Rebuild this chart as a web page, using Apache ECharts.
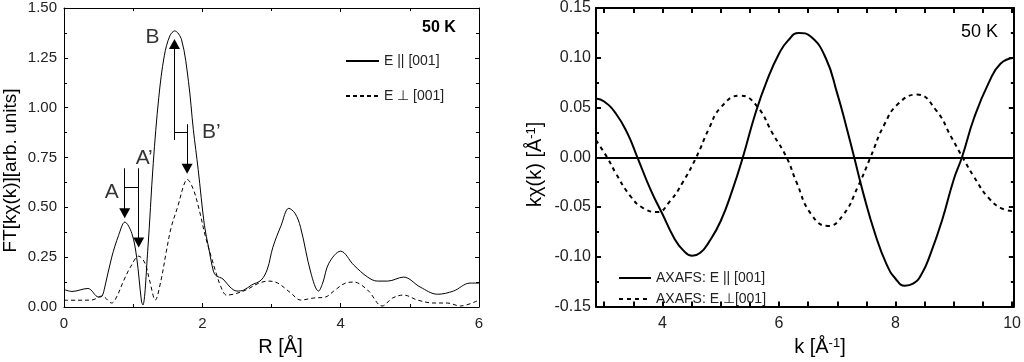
<!DOCTYPE html>
<html><head><meta charset="utf-8">
<script src="https://cdn.jsdelivr.net/npm/echarts@6/dist/echarts.min.js"></script>
<style>html,body{margin:0;padding:0;background:#fff}#c{width:1024px;height:362px}</style>
</head><body><div id="c"></div>
<script>
// ---- Left panel: Fourier transform |FT[k chi(k)]| vs R ----
const ftParR = [0,0.115,0.345,0.50,0.55,0.59,0.69,0.79,0.88,0.98,1.05,1.12,1.14,1.21,1.29,1.37,1.45,1.53,1.60,1.70,1.80,1.87,1.94,2.03,2.09,2.16,2.20,2.30,2.40,2.50,2.60,2.71,2.85,2.94,3.02,3.14,3.25,3.34,3.42,3.57,3.68,3.74,3.83,4.00,4.19,4.39,4.53,4.68,4.91,5.15,5.40,5.63,5.87,6.0];
const ftParV = [0.088,0.078,0.093,0.05,0.055,0.10,0.25,0.36,0.426,0.37,0.25,0.03,0.01,0.28,0.72,1.05,1.26,1.36,1.385,1.34,1.13,0.89,0.69,0.41,0.30,0.18,0.157,0.14,0.10,0.08,0.085,0.11,0.135,0.19,0.30,0.41,0.495,0.47,0.40,0.17,0.08,0.12,0.22,0.28,0.21,0.15,0.13,0.13,0.15,0.10,0.064,0.08,0.12,0.12];
const ftPerR = [0,0.2,0.40,0.55,0.69,0.76,0.86,0.96,1.08,1.17,1.24,1.32,1.40,1.48,1.55,1.65,1.73,1.78,1.87,1.96,2.04,2.13,2.20,2.27,2.35,2.45,2.63,2.82,2.96,3.09,3.28,3.42,3.61,3.78,3.90,4.07,4.19,4.39,4.60,4.75,4.91,5.11,5.34,5.54,5.73,6.0];
const ftPerV = [0.034,0.034,0.035,0.055,0.02,0.05,0.13,0.20,0.255,0.22,0.13,0.035,0.13,0.28,0.40,0.51,0.61,0.64,0.59,0.48,0.36,0.25,0.17,0.10,0.06,0.064,0.085,0.12,0.13,0.12,0.07,0.035,0.045,0.05,0.08,0.12,0.125,0.085,0.005,0.045,0.06,0.035,0.02,0.02,0.005,0.035];

// ---- Right panel: k chi(k) vs k ----
const kParK = [2.86,3.0,3.2,3.4,3.57,3.8,4.0,4.2,4.35,4.51,4.65,4.8,5.0,5.2,5.38,5.6,5.8,6.0,6.15,6.34,6.55,6.8,7.0,7.15,7.29,7.45,7.65,7.85,8.0,8.16,8.3,8.45,8.6,8.8,9.0,9.14,9.35,9.6,9.8,10.03];
const kParV = [0.059,0.056,0.044,0.024,0.0,-0.033,-0.057,-0.081,-0.093,-0.099,-0.096,-0.085,-0.064,-0.033,0.0,0.045,0.078,0.104,0.117,0.125,0.121,0.100,0.064,0.032,0.0,-0.037,-0.077,-0.108,-0.122,-0.129,-0.127,-0.117,-0.097,-0.063,-0.022,0.0,0.040,0.075,0.094,0.100];
const kPerK = [2.86,3.05,3.2,3.45,3.67,3.91,4.13,4.35,4.58,4.8,5.0,5.33,5.6,5.9,6.13,6.3,6.55,6.84,7.1,7.35,7.57,7.8,8.05,8.37,8.7,8.95,9.15,9.35,9.6,9.85,10.03];
const kPerV = [0.017,0.0,-0.016,-0.039,-0.051,-0.055,-0.044,-0.025,0.0,0.029,0.050,0.062,0.053,0.023,0.0,-0.025,-0.057,-0.069,-0.058,-0.030,0.0,0.032,0.054,0.063,0.047,0.021,0.0,-0.020,-0.041,-0.052,-0.054];

// tick labels
const rLabels = [0,2,4,6];
const kLabels = [4,6,8,10];
const kTicks = [3,3.5,4,4.5,5,5.5,6,6.5,7,7.5,8,8.5,9,9.5,10];

// annotation arrows (data coordinates of the left panel)
const arrows = [
  [[0.878,0.696],[0.878,0.47]],   // A
  [[1.08,0.696],[1.08,0.324]],    // A'
  [[1.597,0.838],[1.597,1.319]],  // B
  [[1.78,0.917],[1.78,0.694]]     // B'
];
const connectors = [
  [[0.878,0.603],[1.08,0.603]],
  [[1.597,0.877],[1.78,0.877]]
];
const annotLabels = ['A','A\u2019','B','B\u2019'];
const annotPos = [[0.69,0.578],[1.16,0.748],[1.28,1.353],[2.13,0.877]];

const zip = (a,b)=>a.map((x,i)=>[x,b[i]]);
const FONT = '"Liberation Sans", Arial, sans-serif';
const labelCol = '#222';

function frameAxis(gridIndex, pos, extra, lw){
  return Object.assign({
    gridIndex, position: pos, type:'value',
    axisLine:{show:true, onZero:false, lineStyle:{color:'#000', width:lw}},
    axisTick:{show:true, inside:true, length:4, lineStyle:{color:'#000', width:lw}},
    minorTick:{show:true, splitNumber:2, length:3, lineStyle:{color:'#000', width:lw}},
    splitLine:{show:false},
    axisLabel:{show:false}
  }, extra);
}

const chart = echarts.init(document.getElementById('c'), null, {renderer:'canvas'});
chart.setOption({
  animation:false,
  backgroundColor:'#fff',
  textStyle:{fontFamily:FONT},
  title:[
    {text:'50 K', left:417, top:15, textStyle:{fontFamily:FONT, fontSize:16, fontWeight:'bold', color:'#000'}},
    {text:'50 K', left:956, top:18, textStyle:{fontFamily:FONT, fontSize:18, fontWeight:'normal', color:'#000'}}
  ],
  grid:[
    {left:62, top:8, width:417, height:306},
    {left:596, top:8, width:419, height:306}
  ],
  legend:[
    {data:['E || [001]','E \u22a5 [001]'], orient:'vertical', left:340, top:49, itemWidth:33, itemHeight:14, itemGap:21,
     itemStyle:{opacity:0},
     textStyle:{fontFamily:FONT, fontSize:14, color:labelCol}},
    {data:['AXAFS: E || [001]','AXAFS: E \u22a5[001]'], orient:'vertical', left:613, top:266, itemWidth:32, itemHeight:14, itemGap:7,
     itemStyle:{opacity:0},
     textStyle:{fontFamily:FONT, fontSize:14, color:labelCol}}
  ],
  xAxis:[
    frameAxis(0,'bottom',{min:0,max:6,interval:2,
      axisLabel:{show:true, fontSize:15, color:labelCol, margin:9, customValues:rLabels},
      name:'R [\u00c5]', nameLocation:'middle', nameGap:30,
      nameTextStyle:{fontFamily:FONT, fontSize:20, color:'#000', padding:[0,0,0,18]}},1),
    frameAxis(0,'top',{min:0,max:6,interval:2},1),
    frameAxis(1,'bottom',{min:2.86,max:10.03,
      axisLabel:{show:true, fontSize:16, color:labelCol, margin:9, customValues:kLabels, formatter:v=>String(v)},
      axisTick:{show:true, inside:true, length:5, customValues:kTicks, lineStyle:{color:'#000', width:2}},
      minorTick:{show:false},
      name:'{a|k [\u00c5}{s|-1}{a|]}', nameLocation:'middle', nameGap:28,
      nameTextStyle:{padding:[0,0,0,30], rich:{a:{fontFamily:FONT, fontSize:20, color:'#000'}, s:{fontFamily:FONT, fontSize:13, color:'#000', verticalAlign:'top', padding:[0,0,8,0]}}}},2),
    frameAxis(1,'top',{min:2.86,max:10.03,
      axisTick:{show:true, inside:true, length:5, customValues:kTicks, lineStyle:{color:'#000', width:2}},
      minorTick:{show:false}},2)
  ],
  yAxis:[
    frameAxis(0,'left',{min:0,max:1.5,interval:0.25,
      axisLabel:{show:true, fontSize:15, color:labelCol, margin:7, formatter:v=>v.toFixed(2)},
      name:'FT[k\u03c7(k)][arb. units]', nameLocation:'middle', nameGap:44, nameRotate:90,
      nameTextStyle:{fontFamily:FONT, fontSize:19, color:'#000', padding:[0,0,0,-26]}},1),
    frameAxis(0,'right',{min:0,max:1.5,interval:0.25},1),
    frameAxis(1,'left',{min:-0.15,max:0.15,interval:0.05,
      axisLabel:{show:true, fontSize:16, color:labelCol, margin:5, formatter:v=>v.toFixed(2)},
      axisTick:{show:true, inside:true, length:5, lineStyle:{color:'#000', width:2}},
      name:'{a|k\u03c7(k) [\u00c5}{s|-1}{a|]}', nameLocation:'middle', nameGap:50, nameRotate:90,
      nameTextStyle:{padding:[0,0,0,-14], rich:{a:{fontFamily:FONT, fontSize:20, color:'#000'}, s:{fontFamily:FONT, fontSize:13, color:'#000', verticalAlign:'top', padding:[0,0,8,0]}}}},2),
    frameAxis(1,'right',{min:-0.15,max:0.15,interval:0.05,
      axisTick:{show:true, inside:true, length:5, lineStyle:{color:'#000', width:2}}},2)
  ],
  series:[
    {name:'E || [001]', type:'line', xAxisIndex:0, yAxisIndex:0, data:zip(ftParR,ftParV), smooth:0.35,
     symbol:'none', lineStyle:{color:'#000', width:1}, itemStyle:{color:'#000'},
     markLine:{silent:true, symbol:['none','triangle'], symbolSize:[11,10], animation:false,
       lineStyle:{color:'#000', width:1, type:'solid'}, label:{show:false},
       data:arrows.map(a=>[{coord:a[0]},{coord:a[1]}]).concat(connectors.map(c=>[{coord:c[0], symbol:'none'},{coord:c[1], symbol:'none'}]))}},
    {name:'E \u22a5 [001]', type:'line', xAxisIndex:0, yAxisIndex:0, data:zip(ftPerR,ftPerV), smooth:0.35,
     symbol:'none', lineStyle:{color:'#000', width:1, type:[4,3]}, itemStyle:{color:'#000'}},
    {name:'annot', type:'scatter', xAxisIndex:0, yAxisIndex:0, symbolSize:0, silent:true,
     data:annotPos.map((p,i)=>({value:p, name:annotLabels[i]})),
     label:{show:true, position:'inside', formatter:'{b}', fontFamily:FONT, fontSize:21, color:'#000'}},
    {name:'AXAFS: E || [001]', type:'line', xAxisIndex:2, yAxisIndex:2, data:zip(kParK,kParV), smooth:0.5,
     symbol:'none', lineStyle:{color:'#000', width:2}, itemStyle:{color:'#000'},
     markLine:{silent:true, symbol:'none', animation:false, label:{show:false},
       lineStyle:{color:'#000', width:2, type:'solid'}, data:[{yAxis:0}]}},
    {name:'AXAFS: E \u22a5[001]', type:'line', xAxisIndex:2, yAxisIndex:2, data:zip(kPerK,kPerV), smooth:0.5,
     symbol:'none', lineStyle:{color:'#000', width:2, type:[4,4]}, itemStyle:{color:'#000'}}
  ]
});
</script>
</body></html>
